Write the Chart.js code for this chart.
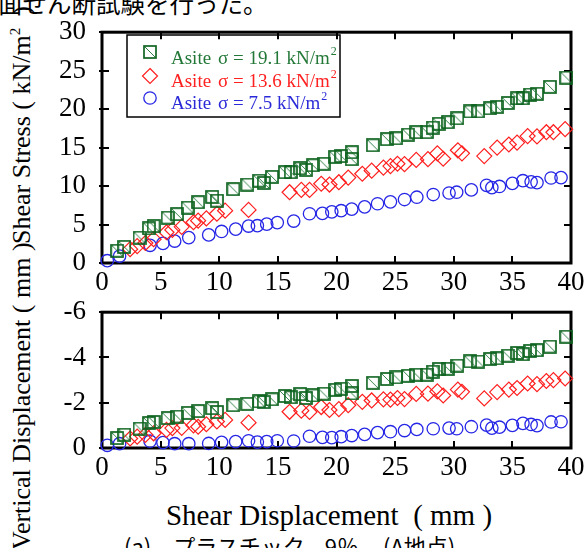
<!DOCTYPE html>
<html>
<head>
<meta charset="utf-8">
<script src="https://cdn.jsdelivr.net/npm/chart.js@4.4.1/dist/chart.umd.min.js"></script>
<style>
  html, body { margin: 0; padding: 0; width: 584px; height: 548px; overflow: hidden; background: #fff; }
  canvas { position: absolute; left: 0; }
  #stressChart { top: 0; }
  #vertChart { top: 280px; }
  .txt { position: absolute; white-space: nowrap; color: #000; font-family: "Liberation Serif", "Times New Roman", serif; }
  .jp { font-family: "Noto Sans CJK JP", sans-serif; }
  .rot { transform: rotate(-90deg); transform-origin: left top; font-size: 26px; line-height: 30px; }
  sup { font-size: 15px; vertical-align: 10px; line-height: 0; }
  .cap span { display: inline-block; }
</style>
</head>
<body>
<div class="txt jp" style="left:-2px; top:-11px; font-size:24.5px; line-height:27px;">面せん断試験を行った。</div>
<div class="txt rot" style="left:7px; top:244px;">Shear Stress ( kN/m<sup>2</sup>&nbsp; )</div>
<div class="txt rot" style="left:7px; top:550px;">Vertical Displacement ( mm )</div>
<div class="txt" style="left:329px; top:499px; transform:translateX(-50%); font-size:29px; line-height:32px;">Shear Displacement&nbsp; ( mm )</div>
<div class="txt jp cap" style="left:124px; top:532px; font-size:22px; line-height:26px;"><span>(a)</span><span style="margin-left:22px;">プラスチック</span><span style="margin-left:20px;">9％</span><span style="margin-left:24px;">(A地点)</span></div>

<canvas id="stressChart" width="620" height="300"></canvas>
<canvas id="vertChart" width="620" height="268"></canvas>

<script>
// shear displacement (mm), shear stress (kN/m2), vertical displacement (mm)
const greenX = [1.3, 1.9, 3.2, 4.0, 4.4, 5.6, 6.4, 7.3, 8.2, 9.4,
  9.8, 11.2, 12.4, 13.4, 13.8, 14.5, 15.6, 16.1, 16.9, 17.4,
  18.0, 18.9, 19.9, 20.4, 21.3, 21.3, 23.1, 24.3, 25.1, 26.1,
  26.8, 27.7, 28.2, 28.7, 29.5, 30.3, 31.4, 32.1, 33.1, 33.7,
  34.6, 35.4, 35.9, 36.5, 37.1, 38.2, 39.6];
const greenStress = [1.6, 2.1, 3.3, 4.5, 4.8, 5.9, 6.35, 7.2, 7.9, 8.6,
  8.1, 9.6, 10.2, 10.7, 10.4, 11.2, 11.8, 11.8, 12.3, 12.1,
  12.7, 12.9, 13.8, 13.9, 14.4, 13.5, 15.3, 16.1, 16.2, 16.7,
  17.0, 17.0, 17.6, 18.1, 18.3, 18.8, 19.7, 19.7, 20.1, 20.3,
  20.8, 21.4, 21.4, 21.9, 22.0, 22.9, 24.1];
const greenVert = [-0.44, -0.59, -0.86, -1.1, -1.15, -1.32, -1.39, -1.55, -1.63, -1.76,
  -1.59, -1.89, -1.95, -2.06, -2.03, -2.15, -2.3, -2.24, -2.38, -2.21,
  -2.32, -2.4, -2.57, -2.62, -2.74, -2.41, -2.88, -3.05, -3.12, -3.19,
  -3.24, -3.24, -3.37, -3.49, -3.5, -3.64, -3.83, -3.82, -3.93, -3.96,
  -4.08, -4.2, -4.14, -4.29, -4.32, -4.48, -4.92];

const redX = [2.4, 3.0, 3.7, 4.4, 5.5, 6.0, 6.8, 7.8, 8.2, 8.9,
  9.8, 10.5, 12.5, 16.0, 17.0, 17.7, 18.7, 19.4, 20.2, 21.0,
  22.2, 23.0, 24.0, 24.6, 25.2, 25.8, 26.8, 27.8, 28.6, 29.1,
  30.35, 30.7, 32.6, 33.7, 34.7, 35.4, 36.3, 37.1, 37.9, 38.5,
  39.5];
const redStress = [1.8, 2.2, 2.6, 3.1, 4.0, 4.3, 4.7, 5.3, 5.5, 5.8,
  6.4, 6.8, 6.9, 9.2, 9.5, 9.5, 10.3, 10.2, 10.5, 11.1,
  11.6, 12.0, 12.4, 12.6, 12.9, 12.85, 13.4, 13.5, 14.25, 13.55,
  14.65, 14.25, 13.9, 15.0, 15.4, 15.65, 16.5, 16.45, 17.0, 17.0,
  17.4];
const redVert = [-0.42, -0.5, -0.58, -0.65, -0.8, -0.88, -0.89, -1.0, -0.94, -1.05,
  -1.17, -1.24, -1.12, -1.6, -1.65, -1.59, -1.81, -1.68, -1.72, -1.89,
  -2.04, -2.1, -2.15, -2.14, -2.21, -2.16, -2.39, -2.4, -2.5, -2.32,
  -2.58, -2.48, -2.19, -2.47, -2.58, -2.65, -2.85, -2.82, -2.96, -3.0,
  -3.07];

const blueX = [0.45, 1.5, 4.1, 5.2, 6.2, 7.4, 9.1, 10.2, 11.4, 12.5,
  13.25, 14.05, 14.95, 16.35, 17.7, 18.8, 19.6, 20.4, 21.3, 22.4,
  23.5, 24.6, 25.8, 26.85, 28.25, 29.6, 30.25, 31.5, 32.8, 33.25,
  33.9, 35.0, 35.9, 36.6, 37.1, 38.3, 39.15];
const blueStress = [0.3, 0.9, 2.3, 2.55, 2.85, 3.3, 3.65, 4.1, 4.4, 4.8,
  4.85, 5.05, 5.25, 5.45, 6.4, 6.45, 6.65, 6.8, 7.0, 7.3,
  7.7, 7.95, 8.25, 8.55, 8.9, 9.1, 9.2, 9.5, 10.1, 9.8,
  9.95, 10.35, 10.7, 10.55, 10.45, 11.05, 11.1];
const blueVert = [-0.12, -0.19, -0.3, -0.24, -0.19, -0.19, -0.2, -0.25, -0.28, -0.32,
  -0.26, -0.28, -0.32, -0.31, -0.52, -0.47, -0.46, -0.5, -0.55, -0.6,
  -0.68, -0.72, -0.77, -0.82, -0.85, -0.88, -0.85, -0.94, -1.01, -0.88,
  -0.92, -1.0, -1.09, -1.04, -0.99, -1.15, -1.16];

const shearTicks = [0, 5, 10, 15, 20, 25, 30, 35, 40];
const stressTicks = [0, 5, 10, 15, 20, 25, 30];
const vertTicks = [-6, -4, -2, 0];
const sigmas = ['19.1', '13.6', '7.5'];

const GREEN = '#0f6420', RED = '#ff1f1f', BLUE = '#2626e6';
const TEXT_COLORS = ['#237838', '#ff2020', '#2a2ad8'];
const SERIF = '"Liberation Serif", "Times New Roman", serif';
Chart.defaults.font.family = SERIF;

// square with a diagonal stroke
function squareMark() {
  const s = 14;
  const c = document.createElement('canvas');
  c.width = s; c.height = s;
  const g = c.getContext('2d');
  g.strokeStyle = GREEN;
  g.lineWidth = 1.7;
  g.strokeRect(1, 1, s - 2, s - 2);
  g.lineWidth = 1;
  g.strokeStyle = '#2f8046';
  g.beginPath();
  g.moveTo(2, 2);
  g.lineTo(s - 2, s - 2);
  g.stroke();
  return c;
}
const SQUARE = squareMark();

function pts(xs, ys) {
  return xs.map((x, i) => ({ x: x, y: ys[i] }));
}

function makeSets(yg, yr, yb) {
  return [
    { label: 'g', data: pts(greenX, yg), pointStyle: SQUARE, pointRadius: 7, clip: false },
    { label: 'r', data: pts(redX, yr), pointStyle: 'rectRot', pointRadius: 7.5, borderColor: RED, borderWidth: 1.2, backgroundColor: 'rgba(0,0,0,0)', clip: false },
    { label: 'b', data: pts(blueX, yb), pointStyle: 'circle', pointRadius: 6.2, borderColor: BLUE, borderWidth: 1.3, backgroundColor: 'rgba(0,0,0,0)', clip: false }
  ];
}

// box round the plot, ticks pointing inward
const framePlugin = {
  id: 'frame',
  beforeDatasetsDraw(chart) {
    const { ctx, chartArea: a, scales } = chart;
    ctx.save();
    ctx.strokeStyle = '#000';
    ctx.lineWidth = 3;
    ctx.strokeRect(a.left, a.top, a.right - a.left, a.bottom - a.top);
    ctx.lineWidth = 2;
    ctx.beginPath();
    scales.x.ticks.forEach(t => {
      const px = Math.round(scales.x.getPixelForValue(t.value));
      ctx.moveTo(px, a.top); ctx.lineTo(px, a.top + 7);
      ctx.moveTo(px, a.bottom); ctx.lineTo(px, a.bottom - 7);
    });
    scales.y.ticks.forEach(t => {
      const py = Math.round(scales.y.getPixelForValue(t.value));
      ctx.moveTo(a.left - 3, py); ctx.lineTo(a.left + 7, py);
      ctx.moveTo(a.right, py); ctx.lineTo(a.right - 7, py);
    });
    ctx.stroke();
    ctx.restore();
  }
};

// legend box inside the stress plot
const legendPlugin = {
  id: 'boxLegend',
  afterDraw(chart) {
    const { ctx } = chart;
    ctx.save();
    ctx.strokeStyle = '#000';
    ctx.lineWidth = 1.5;
    ctx.strokeRect(127, 35, 213, 82);
    const rows = [52, 76, 98];
    const bases = [64, 87, 109];
    rows.forEach((ry, i) => {
      const mx = 150;
      if (i === 0) {
        ctx.drawImage(SQUARE, mx - 7, ry - 7);
      } else if (i === 1) {
        ctx.strokeStyle = RED; ctx.lineWidth = 1.2;
        ctx.beginPath();
        ctx.moveTo(mx, ry - 7.5); ctx.lineTo(mx + 7.5, ry); ctx.lineTo(mx, ry + 7.5); ctx.lineTo(mx - 7.5, ry);
        ctx.closePath(); ctx.stroke();
      } else {
        ctx.strokeStyle = BLUE; ctx.lineWidth = 1.3;
        ctx.beginPath(); ctx.arc(mx, ry, 6.2, 0, Math.PI * 2); ctx.stroke();
      }
      ctx.fillStyle = TEXT_COLORS[i];
      ctx.textBaseline = 'alphabetic';
      ctx.font = '19px ' + SERIF;
      ctx.fillText('Asite', 171, bases[i]);
      const main = 'σ = ' + sigmas[i] + ' kN/m';
      ctx.fillText(main, 218, bases[i]);
      const w = ctx.measureText(main).width;
      ctx.font = '12px ' + SERIF;
      ctx.fillText('2', 218 + w + 1, bases[i] - 9);
    });
    ctx.restore();
  }
};

const tickFont = { family: SERIF, size: 27 };

function baseOptions(yMin, yMax, yTicks, reverse, pad, xHeight) {
  return {
    responsive: false,
    animation: false,
    layout: { padding: pad },
    plugins: { legend: { display: false }, tooltip: { enabled: false } },
    elements: { point: { borderColor: GREEN } },
    scales: {
      x: {
        type: 'linear', min: 0, max: 40,
        afterBuildTicks: s => { s.ticks = shearTicks.map(v => ({ value: v })); },
        afterFit: s => { s.height = xHeight; },
        grid: { display: false, drawTicks: false },
        border: { display: false },
        ticks: { font: tickFont, color: '#000', padding: 4, maxRotation: 0 }
      },
      y: {
        type: 'linear', min: yMin, max: yMax, reverse: reverse,
        afterBuildTicks: s => { s.ticks = yTicks.map(v => ({ value: v })); },
        afterFit: s => { s.width = 102; },
        grid: { display: false, drawTicks: false },
        border: { display: false },
        ticks: { font: tickFont, color: '#000', padding: 16 }
      }
    }
  };
}

new Chart(document.getElementById('stressChart'), {
  type: 'scatter',
  data: { datasets: makeSets(greenStress, redStress, blueStress) },
  options: baseOptions(0, 30, stressTicks, false, { left: 0, top: 27, right: 49, bottom: 0 }, 37),
  plugins: [framePlugin, legendPlugin]
});

new Chart(document.getElementById('vertChart'), {
  type: 'scatter',
  data: { datasets: makeSets(greenVert, redVert, blueVert) },
  options: baseOptions(-6, 0, vertTicks, true, { left: 0, top: 18, right: 49, bottom: 60 }, 40),
  plugins: [framePlugin]
});
</script>
</body>
</html>
